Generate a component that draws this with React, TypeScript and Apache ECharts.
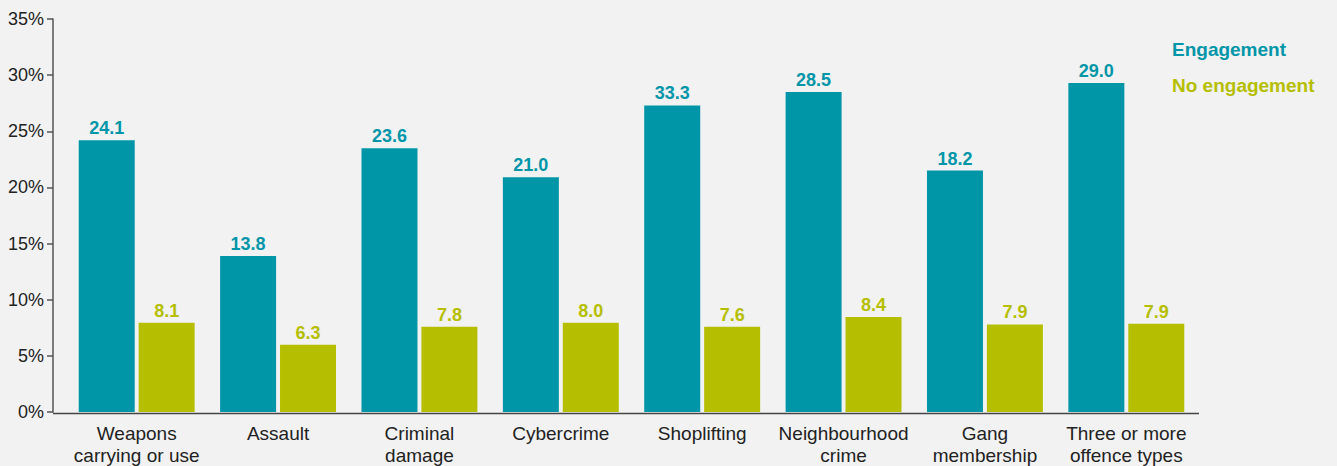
import React, { useEffect, useRef } from "react";
import * as echarts from "echarts";

const categories = [
  "Weapons\ncarrying or use",
  "Assault",
  "Criminal\ndamage",
  "Cybercrime",
  "Shoplifting",
  "Neighbourhood\ncrime",
  "Gang\nmembership",
  "Three or more\noffence types",
];
const engagementValues = [24.2, 13.9, 23.5, 20.9, 27.3, 28.5, 21.5, 29.3];
const engagementLabels = ["24.1", "13.8", "23.6", "21.0", "33.3", "28.5", "18.2", "29.0"];
const noEngagementValues = [7.95, 6.0, 7.6, 7.95, 7.6, 8.45, 7.8, 7.85];
const noEngagementLabels = ["8.1", "6.3", "7.8", "8.0", "7.6", "8.4", "7.9", "7.9"];
const yTicks = [0, 5, 10, 15, 20, 25, 30, 35];

const TEAL = "#0096A8";
const GREEN = "#B5BF00";
const FONT = "'Liberation Sans', Arial, Helvetica, sans-serif";

export default function App() {
  const ref = useRef<HTMLDivElement>(null);
  useEffect(() => {
    if (!ref.current) return;
    const chart = echarts.init(ref.current, null, { renderer: "svg" });
    chart.setOption({
      animation: false,
      backgroundColor: "#F2F2F2",
      textStyle: { fontFamily: FONT },
      grid: { left: 66, right: 140, top: 19, bottom: 52.5, containLabel: false },
      legend: {
        orient: "vertical",
        left: 1162,
        top: 35,
        itemGap: 17,
        icon: "none",
        itemWidth: 0,
        itemHeight: 0,
        selectedMode: false,
        data: [
          { name: "Engagement", textStyle: { color: TEAL } },
          { name: "No engagement", textStyle: { color: GREEN } },
        ],
        textStyle: { fontSize: 19, fontWeight: "bold", fontFamily: FONT },
      },
      xAxis: {
        type: "category",
        data: categories,
        axisLine: { show: false },
        axisTick: { show: false },
        axisLabel: {
          color: "#222",
          fontSize: 19,
          lineHeight: 22,
          margin: 10,
          interval: 0,
          fontFamily: FONT,
        },
      },
      yAxis: {
        type: "value",
        min: yTicks[0],
        max: yTicks[yTicks.length - 1],
        interval: 5,
        offset: 13,
        splitLine: { show: false },
        axisLine: { show: true, lineStyle: { color: "#555", width: 1.5 } },
        axisTick: { show: true, inside: false, length: 6, lineStyle: { color: "#555", width: 1.5 } },
        axisLabel: {
          color: "#222",
          fontSize: 18,
          margin: 9,
          fontFamily: FONT,
          formatter: (v: number) => `${v}%`,
        },
      },
      graphic: [
        {
          type: "line",
          shape: { x1: 53, y1: 413.5, x2: 1199, y2: 413.5 },
          style: { stroke: "#444", lineWidth: 1.5 },
          z: 10,
        },
      ],
      series: [
        {
          name: "Engagement",
          type: "bar",
          data: engagementValues,
          barWidth: 56,
          barGap: "7%",
          itemStyle: { color: TEAL },
          label: {
            show: true,
            position: "top",
            distance: 3,
            color: TEAL,
            fontSize: 18,
            fontWeight: "bold",
            fontFamily: FONT,
            formatter: (p: any) => engagementLabels[p.dataIndex],
          },
        },
        {
          name: "No engagement",
          type: "bar",
          data: noEngagementValues,
          barWidth: 56,
          barGap: "7%",
          itemStyle: { color: GREEN },
          label: {
            show: true,
            position: "top",
            distance: 3,
            color: GREEN,
            fontSize: 18,
            fontWeight: "bold",
            fontFamily: FONT,
            formatter: (p: any) => noEngagementLabels[p.dataIndex],
          },
        },
      ],
    });
    return () => chart.dispose();
  }, []);
  return (
    <div
      ref={ref}
      style={{ position: "fixed", left: 0, top: 0, width: 1337, height: 466, background: "#F2F2F2" }}
    />
  );
}
